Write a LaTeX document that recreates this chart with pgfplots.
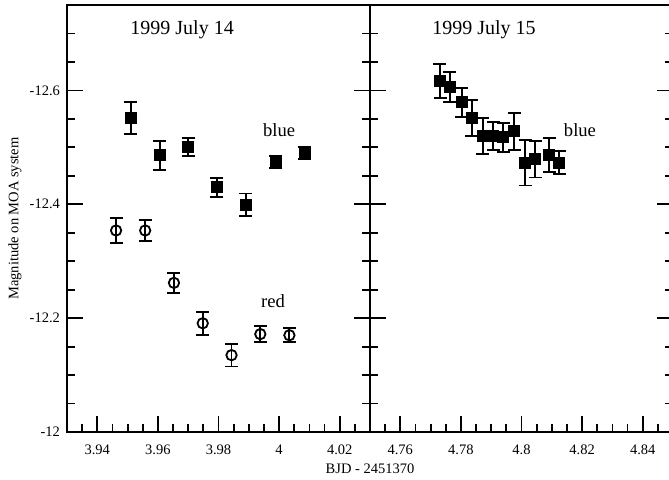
\documentclass[border=0pt]{standalone}
\usepackage{fontspec}
\setmainfont{Liberation Serif}
\usepackage{pgfplots}
\usepackage{pgfplotstable}
\pgfplotsset{compat=1.18}

\pgfplotstableread{
x y e
3.9510 -12.551 0.028
3.9606 -12.486 0.025
3.9700 -12.501 0.016
3.9794 -12.430 0.0165
3.9890 -12.399 0.020
3.9989 -12.474 0.011
4.0084 -12.490 0.010
}\bluea

\pgfplotstableread{
x y e
3.9462 -12.354 0.022
3.9558 -12.354 0.018
3.9653 -12.262 0.0176
3.9748 -12.191 0.0205
3.9843 -12.135 0.020
3.9938 -12.172 0.0138
4.0034 -12.170 0.0123
}\reda

\pgfplotstableread{
x y e
4.7731 -12.616 0.030
4.7764 -12.606 0.027
4.7803 -12.579 0.026
4.7836 -12.551 0.0317
4.7872 -12.520 0.032
4.7907 -12.520 0.024
4.7940 -12.518 0.0255
4.7976 -12.528 0.033
4.8013 -12.473 0.040
4.8046 -12.479 0.032
4.8092 -12.487 0.0296
4.8125 -12.473 0.020
}\blueb

\pgfplotsset{
  panel/.style={
    scale only axis, width=151.5pt, height=213.5pt,
    y dir=reverse, ymin=-12.75, ymax=-12,
    ytick={-12,-12.2,-12.4,-12.6},
    minor ytick={-12.05,-12.1,-12.15,-12.25,-12.3,-12.35,-12.45,-12.5,-12.55,-12.65,-12.7},
    tick align=inside,
    xtick pos=bottom, ytick pos=both, yticklabel pos=left,
    major tick length=8pt, minor tick length=4pt,
    every tick/.style={black, line width=0.9pt},
    axis line style={line width=1pt},
    tick label style={font=\fontsize{7.25}{8}\selectfont},
    /pgf/number format/assume math mode=true,
    xticklabel style={yshift=-3pt},
    clip=false,
  },
  errstyle/.style={
    black, line width=0.95pt, only marks,
    /pgfplots/error bars/y dir=both,
    /pgfplots/error bars/y explicit,
    /pgfplots/error bars/error bar style={line width=0.95pt},
    /pgfplots/error bars/error mark options={line width=0.95pt, mark size=3.25pt, rotate=90},
  },
}

\begin{document}
\begin{tikzpicture}
\begin{axis}[panel, at={(0,0)}, anchor=south west,
  xmin=3.93, xmax=4.03,
  xtick={3.94,3.96,3.98,4,4.02},
  minor xtick={3.935,3.945,3.95,3.955,3.965,3.97,3.975,3.985,3.99,3.995,4.005,4.01,4.015,4.025},
  xlabel={BJD - 2451370},
  ylabel={Magnitude on MOA system},
  every axis x label/.style={at={(axis description cs:1,-0.086)}, anchor=center, font=\fontsize{7.25}{8}\selectfont},
  every axis y label/.style={at={(axis description cs:-0.1716,0.5)}, anchor=center, rotate=90, font=\fontsize{7.25}{8}\selectfont},
]
\addplot[errstyle, mark=square*, mark size=2.5pt, mark options={solid}] table[x=x, y=y, y error=e] {\bluea};
\addplot[errstyle, mark=o, mark size=2.6pt, mark options={solid, line width=0.9pt}] table[x=x, y=y, y error=e] {\reda};
\node[anchor=base, font=\fontsize{10}{12}\selectfont] at (axis cs:3.968,-12.698) {1999 July 14};
\node[anchor=base, font=\fontsize{9.3}{11}\selectfont] at (axis cs:4.0,-12.519) {blue};
\node[anchor=base, font=\fontsize{9.3}{11}\selectfont] at (axis cs:3.998,-12.219) {red};
\end{axis}
\begin{axis}[panel, at={(151.5pt,0)}, anchor=south west,
  xmin=4.75, xmax=4.85,
  xtick={4.76,4.78,4.8,4.82,4.84},
  minor xtick={4.755,4.765,4.77,4.775,4.785,4.79,4.795,4.805,4.81,4.815,4.825,4.83,4.835,4.845},
  yticklabels={},
]
\addplot[errstyle, mark=square*, mark size=2.5pt, mark options={solid}] table[x=x, y=y, y error=e] {\blueb};
\node[anchor=base, font=\fontsize{10}{12}\selectfont] at (axis cs:4.7876,-12.698) {1999 July 15};
\node[anchor=base, font=\fontsize{9.3}{11}\selectfont] at (axis cs:4.8193,-12.519) {blue};
\end{axis}
\pgfresetboundingbox
\path[use as bounding box] (-33.5pt,-23.5pt) rectangle (301pt,216pt);
\end{tikzpicture}
\end{document}
